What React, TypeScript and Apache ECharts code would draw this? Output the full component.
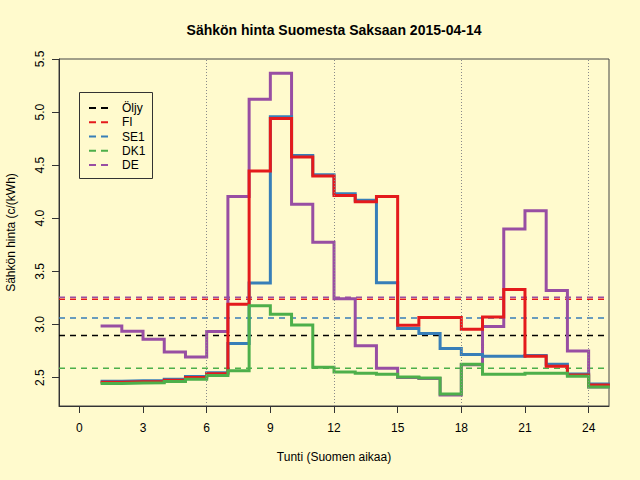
import React, { useEffect, useRef } from "react";
import * as echarts from "echarts";

const TITLE = "Sähkön hinta Suomesta Saksaan 2015-04-14";
const X_NAME = "Tunti (Suomen aikaa)";
const Y_NAME = "Sähkön hinta (c/(kWh)";

const HOURS = [1, 2, 3, 4, 5, 6, 7, 8, 9, 10, 11, 12, 13, 14, 15, 16, 17, 18, 19, 20, 21, 22, 23, 24];
const X_TICKS = [0, 3, 6, 9, 12, 15, 18, 21, 24];
const Y_TICKS = [2.5, 3.0, 3.5, 4.0, 4.5, 5.0, 5.5];
const V_LINES = [6, 12, 18, 24];
const X_MIN = -0.96;
const X_MAX = 24.96;
const Y_MIN = 2.232;
const Y_MAX = 5.5;

const LEGEND_NAMES = ["Öljy", "FI", "SE1", "DK1", "DE"];
const LEGEND_COLORS = ["#000000", "#E41A1C", "#377EB8", "#4DAF4A", "#984EA3"];
// horizontal dashed reference levels (same order as the legend)
const MEANS = [2.895, 3.237, 3.061, 2.588, 3.256];

const FI = [2.455, 2.46, 2.46, 2.475, 2.5, 2.535, 3.19, 4.445, 4.94, 4.576, 4.397, 4.215, 4.155, 4.206, 2.993, 3.065, 3.065, 2.955, 3.071, 3.33, 2.7, 2.607, 2.525, 2.43];
const SE1 = [2.465, 2.47, 2.47, 2.485, 2.51, 2.545, 2.82, 3.39, 4.956, 4.59, 4.41, 4.23, 4.17, 3.393, 2.962, 2.915, 2.773, 2.717, 2.7, 2.7, 2.707, 2.625, 2.534, 2.44];
const DK1 = [2.443, 2.449, 2.45, 2.462, 2.484, 2.52, 2.565, 3.175, 3.095, 2.995, 2.597, 2.553, 2.54, 2.53, 2.505, 2.495, 2.345, 2.625, 2.53, 2.53, 2.54, 2.54, 2.512, 2.41];
const DE = [2.986, 2.936, 2.861, 2.741, 2.694, 2.933, 4.206, 5.12, 5.365, 4.133, 3.774, 3.241, 2.8, 2.588, 2.5, 2.49, 2.335, 2.62, 2.98, 3.898, 4.07, 3.32, 2.75, 2.41];

const FONT = "'Liberation Sans', Arial, Helvetica, sans-serif";

function stepData(values: number[]) {
  const pts = HOURS.map((h, i) => [h, values[i]]);
  // close the last hour's step
  pts.push([HOURS[HOURS.length - 1] + 1, values[values.length - 1]]);
  return pts;
}

function buildOption() {
  const meanSeries = LEGEND_NAMES.map((name, i) => ({
    type: "line",
    name: name + " ka",
    data: [
      [X_MIN, MEANS[i]],
      [X_MAX, MEANS[i]],
    ],
    showSymbol: false,
    symbol: "none",
    silent: true,
    z: 2,
    lineStyle: { color: LEGEND_COLORS[i], width: 1.5, type: [6, 5] },
  }));

  const steps: [string, number[], string][] = [
    ["DE", DE, LEGEND_COLORS[4]],
    ["SE1", SE1, LEGEND_COLORS[2]],
    ["FI", FI, LEGEND_COLORS[1]],
    ["DK1", DK1, LEGEND_COLORS[3]],
  ];
  const stepSeries = steps.map(([name, vals, color]) => ({
    type: "line",
    name,
    data: stepData(vals),
    step: "end",
    showSymbol: false,
    symbol: "none",
    silent: true,
    z: 3,
    lineStyle: { color, width: 3, cap: "butt", join: "miter" },
  }));

  const vlineSeries = {
    type: "line",
    name: "vlines",
    data: [],
    silent: true,
    z: 1,
    markLine: {
      silent: true,
      symbol: ["none", "none"],
      label: { show: false },
      lineStyle: { color: "#8a8a8a", width: 1, type: [1, 2] },
      data: V_LINES.map((x) => ({ xAxis: x })),
    },
  };

  const legendTop = 108;
  const legendStep = 14.25;
  const legendChildren: any[] = [
    {
      type: "rect",
      shape: { x: 79.5, y: 92.5, width: 73, height: 86 },
      style: { fill: "none", stroke: "#333", lineWidth: 1 },
    },
  ];
  LEGEND_NAMES.forEach((name, i) => {
    const y = legendTop + i * legendStep;
    legendChildren.push({
      type: "line",
      shape: { x1: 89, y1: y, x2: 109, y2: y },
      style: { stroke: LEGEND_COLORS[i], lineWidth: 2, lineDash: [7, 5] },
    });
    legendChildren.push({
      type: "text",
      x: 122,
      y,
      style: {
        text: name,
        fill: "#000",
        font: `12px ${FONT}`,
        align: "left",
        verticalAlign: "middle",
      },
    });
  });

  return {
    animation: false,
    backgroundColor: "#FFFACD",
    grid: {
      left: 59,
      right: 31,
      top: 59,
      bottom: 74,
      containLabel: false,
      outerBoundsMode: "none",
      show: true,
      borderColor: "#444",
      borderWidth: 1,
      backgroundColor: "transparent",
    },
    xAxis: {
      type: "value",
      min: X_MIN,
      max: X_MAX,
      name: X_NAME,
      nameLocation: "middle",
      nameGap: 45,
      nameTextStyle: { fontFamily: FONT, fontSize: 12, color: "#000" },
      axisLine: { show: true, onZero: false, lineStyle: { color: "#333", width: 1 } },
      axisTick: { show: true, length: 7, customValues: X_TICKS, lineStyle: { color: "#333" } },
      axisLabel: { customValues: X_TICKS, margin: 16, fontSize: 12, color: "#000", fontFamily: FONT },
      splitLine: { show: false },
    },
    yAxis: {
      type: "value",
      min: Y_MIN,
      max: Y_MAX,
      name: Y_NAME,
      nameLocation: "middle",
      nameGap: 42,
      nameTextStyle: { fontFamily: FONT, fontSize: 12, color: "#000" },
      axisLine: { show: true, onZero: false, lineStyle: { color: "#333", width: 1 } },
      axisTick: { show: true, length: 7, customValues: Y_TICKS, lineStyle: { color: "#333" } },
      axisLabel: {
        customValues: Y_TICKS,
        rotate: 90,
        margin: 13,
        fontSize: 12,
        color: "#000",
        fontFamily: FONT,
        formatter: (v: number) => v.toFixed(1),
      },
      splitLine: { show: false },
    },
    graphic: [
      {
        type: "text",
        x: 334,
        y: 30,
        style: {
          text: TITLE,
          fill: "#000",
          font: `bold 14px ${FONT}`,
          align: "center",
          verticalAlign: "middle",
        },
      },
      { type: "group", children: legendChildren },
    ],
    series: [vlineSeries, ...meanSeries, ...stepSeries],
  };
}

export default function App() {
  const ref = useRef<HTMLDivElement>(null);
  useEffect(() => {
    const chart = echarts.init(ref.current!, null, { renderer: "svg" });
    chart.setOption(buildOption() as any);
    return () => chart.dispose();
  }, []);
  return (
    <div
      ref={ref}
      style={{ position: "fixed", left: 0, top: 0, width: 640, height: 480 }}
    />
  );
}
